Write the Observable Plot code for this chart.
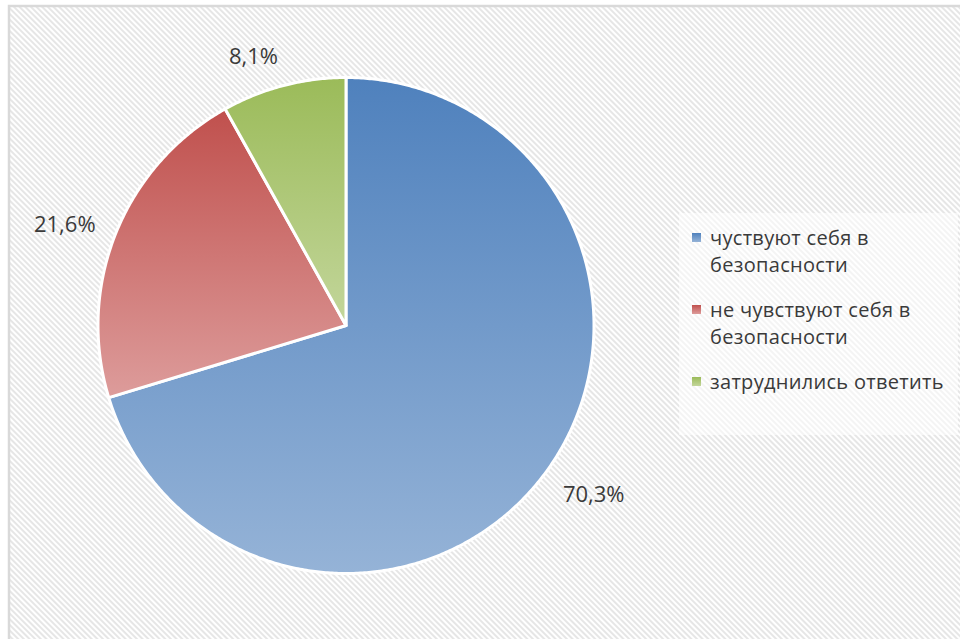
<!DOCTYPE html>
<html>
<head>
<meta charset="utf-8">
<script src="https://cdn.jsdelivr.net/npm/d3@7"></script>
<script src="https://cdn.jsdelivr.net/npm/@observablehq/plot@0.6"></script>
<style>
  html, body { margin: 0; padding: 0; background: #fff; }
  #wrap { position: relative; width: 960px; height: 639px; overflow: hidden; font-family: "Open Sans", sans-serif; }
  #legend { position: absolute; left: 679px; top: 213px; width: 279px; height: 222px; background: rgba(255,255,255,0.55); box-sizing: border-box; padding: 11px 0 0 13px; }
  .item { display: flex; align-items: flex-start; margin-bottom: 18px; }
  .sw { width: 9px; height: 9px; margin-top: 9px; margin-right: 9px; flex: none; }
  .txt { font-size: 20px; letter-spacing: 0.3px; line-height: 27px; color: #3a3a3a; width: 245px; }
</style>
</head>
<body>
<div id="wrap"></div>
<script>
// ---- data ----
const categories = ["чуствуют себя в безопасности", "не чувствуют себя в безопасности", "затруднились ответить"];
const values = [70.3, 21.6, 8.1];
const labels = ["70,3%", "21,6%", "8,1%"];

// ---- styles ----
const topColors = ["#4f81bd", "#c0504d", "#9bbb59"];
const bottomColors = ["#95b3d7", "#dd9c9b", "#c3d69b"];
const W = 960, H = 639, CX = 345.5, CY = 325, R = 248;

const total = d3.sum(values);
let acc = 0;
const slices = values.map((v, i) => {
  const a0 = acc / total * 2 * Math.PI;
  acc += v;
  const a1 = acc / total * 2 * Math.PI;
  const pts = [{x: 0, y: 0}];
  const n = Math.max(2, Math.ceil((a1 - a0) / (Math.PI / 360)));
  for (let k = 0; k <= n; k++) {
    const a = a0 + (a1 - a0) * k / n;
    pts.push({x: Math.sin(a), y: -Math.cos(a)});
  }
  pts.push({x: 0, y: 0});
  const am = (a0 + a1) / 2;
  const rr = 1 + 22 / R;
  const sx = Math.sin(am), sy = -Math.cos(am);
  return {i, pts, label: labels[i], lx: sx * rr, ly: sy * rr,
    ta: sx > 0.2 ? "start" : sx < -0.2 ? "end" : "middle",
    la: sy > 0.5 ? "top" : sy < -0.5 ? "bottom" : "middle"};
});

const marks = [];
slices.forEach(s => {
  marks.push(Plot.line(s.pts, {x: "x", y: "y", curve: "linear", fill: `url(#grad${s.i})`, stroke: "#ffffff", strokeWidth: 3, strokeLinejoin: "round"}));
});
slices.forEach(s => {
  marks.push(Plot.text([s], {x: "lx", y: "ly", text: "label", textAnchor: s.ta, lineAnchor: s.la, fontSize: 22, fill: "#3a3a3a", fontFamily: "Open Sans"}));
});

const svg = Plot.plot({
  width: W, height: H,
  margin: 0,
  x: {type: "linear", domain: [-CX / R, (W - CX) / R], range: [0, W], axis: null},
  y: {type: "linear", domain: [-CY / R, (H - CY) / R], range: [0, H], axis: null},
  style: {background: "transparent", overflow: "visible"},
  marks
});

// defs: gradients + hatch pattern, background frame
const sel = d3.select(svg);
const defs = sel.insert("defs", ":first-child");
topColors.forEach((c, i) => {
  const g = defs.append("linearGradient").attr("id", "grad" + i).attr("x1", 0).attr("y1", 0).attr("x2", 0).attr("y2", 1);
  g.append("stop").attr("offset", "0%").attr("stop-color", c);
  g.append("stop").attr("offset", "100%").attr("stop-color", bottomColors[i]);
});
const pat = defs.append("pattern").attr("id", "hatch").attr("width", 4).attr("height", 4)
  .attr("patternUnits", "userSpaceOnUse").attr("patternTransform", "rotate(-45)");
pat.append("rect").attr("width", 4).attr("height", 4).attr("fill", "#ffffff");
pat.append("rect").attr("width", 2).attr("height", 4).attr("fill", "#e6e6e6");
sel.insert("rect", "defs + *").attr("x", 9).attr("y", 6).attr("width", W).attr("height", H)
  .attr("fill", "url(#hatch)").attr("stroke", "#d9d9d9").attr("stroke-width", 2.5);

const wrap = document.getElementById("wrap");
wrap.appendChild(svg);

// legend
const leg = document.createElement("div");
leg.id = "legend";
categories.forEach((c, i) => {
  const it = document.createElement("div");
  it.className = "item";
  const sw = document.createElement("div");
  sw.className = "sw";
  sw.style.background = `linear-gradient(${topColors[i]}, ${bottomColors[i]})`;
  const t = document.createElement("div");
  t.className = "txt";
  t.textContent = c;
  it.appendChild(sw); it.appendChild(t);
  leg.appendChild(it);
});
wrap.appendChild(leg);
</script>
</body>
</html>
